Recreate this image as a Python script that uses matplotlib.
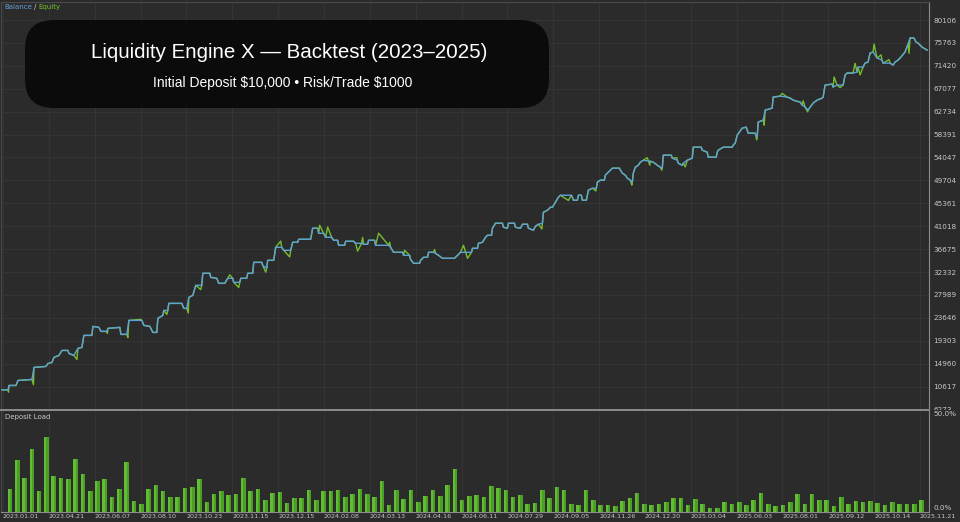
import numpy as np
import matplotlib
matplotlib.use("Agg")
import matplotlib.pyplot as plt
from matplotlib.patches import FancyBboxPatch
from matplotlib.transforms import Bbox

# position along the test (deal order) and balance in USD
balance_x = [1, 7, 8, 15, 17, 31, 33, 45, 47, 51, 53, 58, 61, 67, 68, 73, 77, 81, 83, 91,
             92, 98, 100, 106, 107, 119, 120, 126, 128, 141, 143, 149, 152, 156, 157, 162, 163, 167, 168, 181,
             183, 186, 188, 192, 195, 201, 202, 209, 210, 216, 218, 224, 227, 232, 233, 239, 240, 246, 247, 252,
             253, 261, 262, 266, 267, 273, 275, 281, 283, 290, 292, 297, 298, 310, 312, 317, 318, 323, 325, 331,
             333, 337, 338, 344, 345, 353, 355, 361, 363, 367, 368, 374, 375, 388, 390, 393, 402, 403, 409, 410,
             413, 419, 420, 423, 427, 428, 433, 435, 438, 442, 454, 457, 460, 471, 472, 477, 478, 482, 485, 487,
             491, 492, 495, 502, 503, 507, 508, 514, 515, 520, 522, 527, 528, 533, 535, 538, 542, 543, 547, 550,
             552, 558, 560, 571, 572, 573, 577, 578, 581, 582, 586, 587, 588, 592, 596, 597, 600, 604, 605, 607,
             610, 612, 619, 622, 625, 627, 630, 632, 633, 635, 638, 640, 643, 650, 653, 657, 660, 662, 663, 671,
             672, 677, 678, 682, 683, 687, 692, 693, 701, 702, 707, 708, 716, 717, 718, 723, 732, 733, 735, 737,
             742, 746, 748, 755, 757, 758, 763, 765, 772, 773, 780, 787, 790, 793, 800, 802, 805, 808, 810, 813,
             817, 822, 823, 825, 832, 833, 837, 843, 845, 847, 853, 857, 858, 863, 865, 868, 870, 873, 877, 882,
             883, 890, 893, 895, 898, 900, 905, 908, 910, 914, 916, 918, 922, 927]
balance_usd = [10000, 10000, 10830, 10830, 11780, 11970, 14250, 14430, 15000, 15190, 16140, 16520, 17470, 17470, 16900, 16520, 17850, 18040, 20320, 20320,
               22030, 21840, 21080, 21080, 21650, 21840, 20510, 20510, 23170, 23170, 22220, 22030, 20890, 20890, 23550, 24110, 25060, 25060, 26390, 26390,
               25440, 25440, 27530, 27910, 29810, 29810, 32090, 32090, 31330, 31140, 30190, 30190, 31140, 31140, 30380, 30380, 31140, 31140, 32090, 32090,
               34170, 34170, 33600, 33040, 34550, 34550, 37020, 37020, 36450, 36450, 37970, 37970, 38540, 38540, 40630, 40630, 39680, 39680, 38920, 38920,
               38350, 38350, 37400, 37400, 38160, 38160, 37780, 37780, 37590, 37590, 38350, 38350, 37400, 37400, 37020, 36070, 36070, 35500, 35500, 34740,
               33980, 33980, 34550, 35120, 35120, 36070, 36070, 35880, 35500, 34930, 34930, 35500, 36070, 36070, 36830, 36830, 37780, 37970, 38920, 39300,
               39300, 40630, 41580, 41580, 40820, 40630, 41580, 41580, 40820, 40630, 41390, 41390, 40630, 40250, 41010, 41390, 41580, 43660, 44040, 44610,
               44610, 46510, 46890, 46890, 46510, 45940, 45940, 46890, 46890, 45940, 45940, 46890, 47840, 48220, 48220, 49360, 49740, 49740, 50690, 51070,
               51640, 52020, 52020, 51070, 50690, 50120, 49740, 49360, 51070, 52200, 52580, 53150, 53530, 53340, 53150, 52580, 52200, 52020, 54480, 54480,
               53910, 53530, 52960, 52580, 52960, 53530, 53910, 56000, 56000, 55430, 55050, 54100, 54100, 55050, 55430, 56000, 56000, 56380, 56760, 58280,
               59610, 59800, 58660, 58660, 57900, 60750, 61130, 63020, 63400, 65490, 65680, 65490, 65300, 64920, 64540, 63970, 63590, 63020, 63590, 64350,
               64920, 65300, 65490, 67770, 67960, 67390, 67770, 67770, 69670, 70050, 70050, 70240, 71190, 71190, 71940, 72130, 73840, 74030, 72890, 72510,
               71940, 71940, 71560, 72130, 72510, 72890, 74030, 75550, 76690, 76690, 75930, 75740, 74980, 74410]

# floating equity excursions (open trades) that stick out of the balance line
dip_x = [7.5, 32.5, 76, 106.5, 127, 140, 166, 187.5, 200, 229, 238, 265, 280, 289, 319, 327, 357, 362, 378, 389,
         404, 434, 463, 467, 541.5, 568, 595.5, 631.5, 647, 649.5, 661.5, 676.5, 685, 756.5, 764, 782, 803, 807.5, 834, 840,
         855, 860, 874, 881, 889, 909]
dip_usd = [9560, 10960, 15760, 20700, 19900, 23360, 24300, 24550, 29000, 31800, 29400, 32300, 38200, 35200, 41200, 40870, 36300, 38900, 39700, 38000,
           36450, 36600, 37400, 34930, 40500, 45900, 47700, 48800, 54000, 52580, 51640, 54000, 52260, 57400, 60170, 66200, 64800, 62700, 69300, 67300,
           71900, 69700, 75550, 73500, 72600, 73800]

# deposit load per period, percent
deposit_load = [11, 25.5, 16.4, 31, 10, 37, 17.5, 16.4, 16.2, 26, 18.5, 10.2, 15, 16, 7.1, 11.3, 24.5, 5.3, 3.8, 11,
                13, 10, 7, 7, 11.5, 12, 16, 4.6, 8.8, 10, 8.4, 8.5, 16.5, 10, 11.2, 5.9, 9.3, 9.8, 4.1, 6.7,
                6.7, 10.7, 5.9, 10.3, 10.2, 10.8, 7.1, 8.7, 11.2, 8.8, 7.1, 15, 3.3, 10.5, 6.2, 10.4, 4.9, 7.9, 10.5, 7.9,
                12.9, 21, 5.5, 7.6, 8, 7.4, 12.6, 11.7, 10.7, 7.1, 8.4, 3.9, 4.1, 10.5, 6.6, 12, 10.5, 3.6, 3.3, 10.5,
                5.9, 3.3, 3.0, 2.6, 5.3, 6.7, 9.1, 3.8, 3.1, 3.6, 4.9, 6.7, 6.7, 3.3, 6, 3.6, 1.8, 1.8, 4.6, 3.6,
                4.9, 3.1, 5.9, 9.4, 3.6, 2.6, 3.0, 4.6, 8.7, 3.6, 8.7, 5.9, 5.9, 2.8, 7.1, 3.6, 5.3, 4.9, 5.3, 4.1,
                3.0, 4.9, 3.8, 3.8, 3.8, 5.9]

date_labels = ["2023.01.01", "2023.04.21", "2023.06.07", "2023.08.10", "2023.10.23", "2023.11.15", "2023.12.15",
               "2024.02.08", "2024.03.13", "2024.04.16", "2024.06.11", "2024.07.29", "2024.09.05", "2024.11.26",
               "2024.12.20", "2025.03.04", "2025.06.03", "2025.08.01", "2025.09.12", "2025.10.14", "2025.11.21"]

balance_ticks = [6273, 10617, 14960, 19303, 23646, 27989, 32332, 36675, 41018, 45361, 49704,
                 54047, 58391, 62734, 67077, 71420, 75763, 80106]

bg = "#2b2b2b"
grid_c = "#363636"
axis_c = "#8c8c8c"
txt_c = "#c8c8c8"

fig = plt.figure(figsize=(9.6, 5.22), dpi=100, facecolor=bg)
W, H = 960, 522
ax = fig.add_axes([1 / W, 1 - 409.5 / H, 928 / W, 407.5 / H], facecolor=bg)
ax2 = fig.add_axes([1 / W, 1 - 511.5 / H, 928 / W, 101 / H], facecolor=bg)

x_end = 929
tick_pos = np.linspace(2, 920, len(date_labels))

# equity = balance plus the floating excursions
eq_x = np.array(balance_x + dip_x, dtype=float)
eq_v = np.array(balance_usd + dip_usd, dtype=float)
order = np.argsort(eq_x, kind="stable")
ax.plot(eq_x[order], eq_v[order], color="#76bd2c", lw=1.0, zorder=3)
ax.plot(balance_x, balance_usd, color="#5ea2d8", lw=1.0, zorder=4)

ax.set_xlim(0, x_end)
ax.set_ylim(6273, 83520)
ax.set_yticks(balance_ticks)
ax.set_yticklabels([str(v) for v in balance_ticks])
ax.yaxis.tick_right()
ax.tick_params(axis="y", length=0, pad=3, labelsize=5.2, labelcolor=txt_c)
ax.set_xticks(tick_pos)
ax.tick_params(axis="x", length=0, labelbottom=False)
ax.grid(True, color=grid_c, lw=0.6)
for s in ["top", "left"]:
    ax.spines[s].set_color("#4a4a4a")
ax.spines["right"].set_color(axis_c)
ax.spines["bottom"].set_color(axis_c)
ax.spines["bottom"].set_linewidth(1.4)
ax.set_axisbelow(True)

# lowest balance label is cut by the lower pane, as in the tester
low_lab = ax.get_yticklabels()[0]
low_lab.set_clip_box(Bbox([[0, H - 409.5], [W, H]]))
low_lab.set_clip_on(True)

# deposit load histogram, two strips per bar
bx = 9 + 7.3 * np.arange(len(deposit_load))
ax2.bar(bx - 1.15, deposit_load, width=2.3, color="#62bd34", lw=0, zorder=3)
ax2.bar(bx + 1.15, deposit_load, width=2.3, color="#4a9f24", lw=0, zorder=3)
ax2.set_xlim(0, x_end)
ax2.set_ylim(0, 50)
ax2.set_yticks([0, 50])
ax2.set_yticklabels(["0.0%", "50.0%"])
ax2.yaxis.tick_right()
ax2.tick_params(axis="y", length=0, pad=3, labelsize=5.2, labelcolor=txt_c)
for lab, va in zip(ax2.get_yticklabels(), ["bottom", "top"]):
    lab.set_verticalalignment(va)
ax2.set_xticks(tick_pos)
ax2.set_xticklabels(date_labels, ha="left")
ax2.tick_params(axis="x", length=0, pad=1.5, labelsize=4.6, labelcolor=txt_c)
ax2.grid(True, axis="x", color=grid_c, lw=0.6)
ax2.set_axisbelow(True)
ax2.spines["top"].set_visible(False)
ax2.spines["left"].set_color("#4a4a4a")
ax2.spines["right"].set_color(axis_c)
ax2.spines["bottom"].set_color(axis_c)
ax2.text(4 / 928, 0.97, "Deposit Load", transform=ax2.transAxes, fontsize=5, color=txt_c, va="top")

# legend text top-left
t1 = fig.text(4 / W, 1 - 7 / H, "Balance", color="#5ea2d8", fontsize=5, va="center")
fig.canvas.draw()
bb = t1.get_window_extent()
t2 = fig.text(bb.x1 / W + 2 / W, 1 - 7 / H, "/", color=txt_c, fontsize=5, va="center")
bb2 = t2.get_window_extent()
fig.text(bb2.x1 / W + 2 / W, 1 - 7 / H, "Equity", color="#76bd2c", fontsize=5, va="center")

# title box
box = FancyBboxPatch((25 / W, 1 - 108 / H), 524 / W, 88 / H,
                     boxstyle="round,pad=0,rounding_size=0.03", transform=fig.transFigure,
                     facecolor="#0b0b0b", edgecolor="none", zorder=10,
                     mutation_aspect=W / H)
fig.patches.append(box)
fig.text(289.5 / W, 1 - 53 / H, "Liquidity Engine X — Backtest (2023–2025)", color="white",
         fontsize=14.8, family="Liberation Sans", ha="center", va="center", zorder=11)
fig.text(282.5 / W, 1 - 83 / H, "Initial Deposit \\$10,000 • Risk/Trade \\$1000", color="white",
         fontsize=10, family="Liberation Sans", ha="center", va="center", zorder=11)

fig.savefig("out.png", dpi=100, facecolor=bg)
